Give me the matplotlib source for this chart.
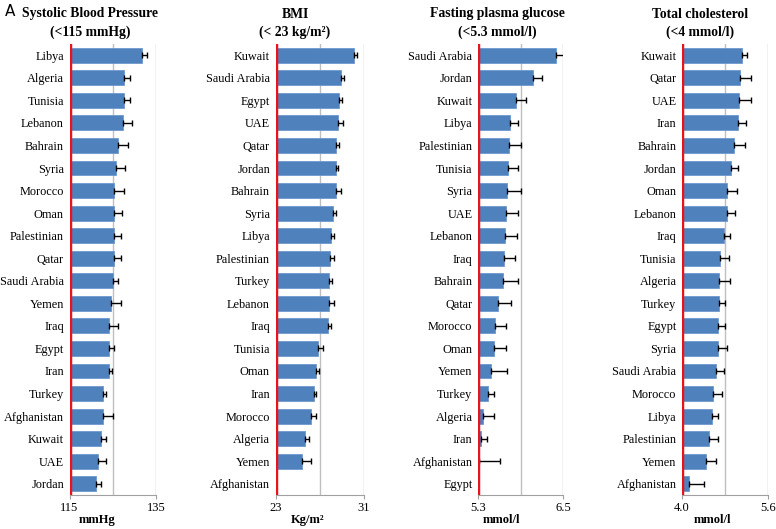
import numpy as np
import matplotlib.pyplot as plt

# panel A: Systolic blood pressure (mmHg)
sbp_countries = ['Libya', 'Algeria', 'Tunisia', 'Lebanon', 'Bahrain', 'Syria', 'Morocco',
                 'Oman', 'Palestinian', 'Qatar', 'Saudi Arabia', 'Yemen', 'Iraq', 'Egypt',
                 'Iran', 'Turkey', 'Afghanistan', 'Kuwait', 'UAE', 'Jordan']
sbp_values = [131.7, 127.7, 127.6, 127.4, 126.3, 125.8, 125.4, 125.3, 125.3, 125.2,
              125.0, 124.7, 124.2, 124.1, 124.1, 122.7, 122.7, 122.2, 121.7, 121.1]
sbp_err = [1.2, 1.4, 1.5, 2.1, 2.2, 2.0, 2.1, 1.9, 1.7, 1.6,
           1.3, 2.1, 2.0, 1.1, 0.8, 0.8, 2.3, 1.3, 1.8, 1.1]

# BMI (kg/m2)
bmi_countries = ['Kuwait', 'Saudi Arabia', 'Egypt', 'UAE', 'Qatar', 'Jordan', 'Bahrain',
                 'Syria', 'Libya', 'Palestinian', 'Turkey', 'Lebanon', 'Iraq', 'Tunisia',
                 'Oman', 'Iran', 'Morocco', 'Algeria', 'Yemen', 'Afghanistan']
bmi_values = [30.1, 28.95, 28.74, 28.65, 28.5, 28.47, 28.44, 28.17, 28.05, 27.93,
              27.87, 27.87, 27.72, 26.87, 26.66, 26.5, 26.21, 25.7, 25.4, 23.0]
bmi_err = [0.25, 0.27, 0.27, 0.42, 0.27, 0.18, 0.45, 0.33, 0.24, 0.39,
           0.21, 0.42, 0.33, 0.45, 0.30, 0.15, 0.45, 0.30, 0.81, 0.0]

# fasting plasma glucose (mmol/l)
fpg_countries = ['Saudi Arabia', 'Jordan', 'Kuwait', 'Libya', 'Palestinian', 'Tunisia',
                 'Syria', 'UAE', 'Lebanon', 'Iraq', 'Bahrain', 'Qatar', 'Morocco', 'Oman',
                 'Yemen', 'Turkey', 'Algeria', 'Iran', 'Afghanistan', 'Egypt']
fpg_values = [6.40, 6.08, 5.84, 5.75, 5.74, 5.72, 5.71, 5.69, 5.68, 5.67,
              5.65, 5.58, 5.54, 5.53, 5.48, 5.44, 5.37, 5.34, 5.31, 5.30]
fpg_err = [0.14, 0.12, 0.14, 0.11, 0.17, 0.15, 0.20, 0.17, 0.17, 0.15,
           0.22, 0.18, 0.16, 0.17, 0.23, 0.08, 0.15, 0.09, 0.30, 0.0]

# total cholesterol (mmol/l)
tc_countries = ['Kuwait', 'Qatar', 'UAE', 'Iran', 'Bahrain', 'Jordan', 'Oman', 'Lebanon',
                'Iraq', 'Tunisia', 'Algeria', 'Turkey', 'Egypt', 'Syria', 'Saudi Arabia',
                'Morocco', 'Libya', 'Palestinian', 'Yemen', 'Afghanistan']
tc_values = [5.11, 5.08, 5.06, 5.04, 4.97, 4.91, 4.84, 4.84, 4.78, 4.71,
             4.69, 4.69, 4.67, 4.67, 4.63, 4.58, 4.56, 4.50, 4.45, 4.13]
tc_err = [0.09, 0.20, 0.22, 0.15, 0.20, 0.13, 0.19, 0.15, 0.11, 0.17,
          0.20, 0.11, 0.13, 0.17, 0.15, 0.17, 0.11, 0.17, 0.19, 0.28]

panels = [
    ('Systolic Blood Pressure', '(<115 mmHg)', sbp_countries, sbp_values, sbp_err,
     115, 135, 125, ['115', '135'], 'mmHg', 69.5, 156, 90, 0.32),
    ('BMI', '(< 23 kg/m²)', bmi_countries, bmi_values, bmi_err,
     23, 31, 27, ['23', '31'], 'Kg/m²', 275.5, 364, 295, 0.36),
    ('Fasting plasma glucose', '(<5.3 mmol/l)', fpg_countries, fpg_values, fpg_err,
     5.3, 6.5, 5.9, ['5.3', '6.5'], 'mmol/l', 478, 563, 497, 0.28),
    ('Total cholesterol', '(<4 mmol/l)', tc_countries, tc_values, tc_err,
     4.0, 5.6, 4.8, ['4.0', '5.6'], 'mmol/l', 682, 768, 700, 0.35),
]

W, H = 776, 529
fig = plt.figure(figsize=(W / 100, H / 100), dpi=100)
serif = 'Liberation Serif'
bar_col = '#4F81BD'
grid_col = '#BFBFBF'

for (t1, t2, names, vals, errs, lo, hi, mid, ticklabs, unit,
     x0, x1, tx, lx) in panels:
    ax = fig.add_axes([x0 / W, 1 - 495 / H, (x1 - x0) / W, 451 / H])
    y = np.arange(len(names))
    vals = np.array(vals)
    errs = np.array(errs)
    ax.barh(y, vals - lo, left=lo, height=0.66, color=bar_col,
            edgecolor='#6E98CE', linewidth=0.6, zorder=2)
    ax.errorbar(vals, y, xerr=[np.zeros_like(errs), errs], fmt='none',
                ecolor='black', elinewidth=1, capsize=2.5, capthick=1, zorder=3)
    ax.axvline(mid, color=grid_col, lw=1, zorder=1)
    ax.axvline(hi, color=grid_col, lw=1, zorder=1)
    ax.axvline(lo, color='#E8141B', lw=3.2, zorder=4)
    ax.set_xlim(lo, hi)
    ax.set_ylim(len(names) - 0.5, -0.5)
    ax.set_yticks(y)
    ax.set_yticklabels(names, fontfamily=serif, fontsize=8.8)
    ax.tick_params(axis='y', length=0, pad=4)
    ax.set_xticks([lo, hi])
    ax.set_xticklabels(ticklabs, fontfamily=serif, fontsize=9)
    ax.tick_params(axis='x', length=3, color='#A0A0A0', pad=2)
    for s in ['top', 'right', 'left']:
        ax.spines[s].set_visible(False)
    ax.spines['bottom'].set_color('#A0A0A0')
    ax.set_xlabel(unit, fontfamily=serif, fontweight='bold', fontsize=9, labelpad=0)
    ax.xaxis.label.set_x(lx)
    fig.text(tx / W, 1 - 14 / H, t1, ha='center', va='center', fontfamily=serif,
             fontweight='bold', fontsize=9.8)
    fig.text(tx / W, 1 - 32 / H, t2, ha='center', va='center', fontfamily=serif,
             fontweight='bold', fontsize=9.8)

fig.text(5 / W, 1 - 12 / H, 'A', ha='left', va='center', fontsize=11)

fig.savefig('out.png', dpi=100)
